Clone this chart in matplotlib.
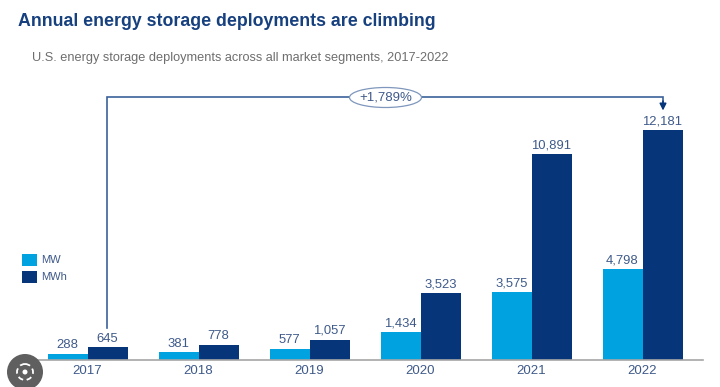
import matplotlib
matplotlib.use("Agg")
import matplotlib.pyplot as plt
from matplotlib.patches import Circle, Ellipse, Rectangle

years = ["2017", "2018", "2019", "2020", "2021", "2022"]
mw = [288, 381, 577, 1434, 3575, 4798]
mwh = [645, 778, 1057, 3523, 10891, 12181]

W, H = 720, 387
LIGHT = "#00A3E0"
DARK = "#06357A"
TEXT = "#3F5A8A"

plt.rcParams["font.family"] = ["Liberation Sans", "DejaVu Sans"]

fig = plt.figure(figsize=(W / 100, H / 100), dpi=100, facecolor="white")

# overlay in pixel coords for the title, bracket and legend
ov = fig.add_axes([0, 0, 1, 1], zorder=3)
ov.set_xlim(0, W)
ov.set_ylim(H, 0)
ov.axis("off")
ov.patch.set_alpha(0)

# bar axes
left, right, base, top = 36, 703, 359.5, 60
ax = fig.add_axes([left / W, 1 - base / H, (right - left) / W, (base - top) / H])
step = 111
bw = 40 / step
ax.set_xlim((left - 87.5) / step, (right - 87.5) / step)
ax.set_ylim(0, 12181 * (base - top) / (base - 130))
xs = list(range(len(years)))

b1 = ax.bar([x - bw / 2 for x in xs], mw, bw, color=LIGHT)
b2 = ax.bar([x + bw / 2 for x in xs], mwh, bw, color=DARK)
for bars, vals in ((b1, mw), (b2, mwh)):
    for r, v in zip(bars, vals):
        ax.annotate(f"{v:,}", (r.get_x() + r.get_width() / 2, v), xytext=(0, 2),
                    textcoords="offset points", ha="center", va="bottom",
                    fontsize=9.4, color=TEXT)

for s in ("top", "left", "right"):
    ax.spines[s].set_visible(False)
ax.spines["bottom"].set_color("#A6A6A6")
ax.spines["bottom"].set_linewidth(1.2)
ax.set_yticks([])
ax.set_xticks(xs, years)
ax.tick_params(axis="x", length=0, pad=4, labelsize=9.5, labelcolor=TEXT)

# titles
ov.text(18, 22, "Annual energy storage deployments are climbing", fontsize=12.75,
        fontweight="bold", color="#17407F", va="center")
ov.text(32, 57.5, "U.S. energy storage deployments across all market segments, 2017-2022",
        fontsize=9.2, color="#6E6E6E", va="center")

# growth bracket
ov.plot([107, 107, 663, 663], [328, 97, 97, 104], color="#3B6299", lw=1.2, solid_joinstyle="miter")
ov.annotate("", xy=(663, 110.5), xytext=(663, 101),
            arrowprops=dict(arrowstyle="-|>", color=DARK, lw=1.1, mutation_scale=10, shrinkA=0, shrinkB=0))
ov.add_patch(Ellipse((385.5, 97.5), 72, 20, fc="white", ec="#7F97BC", lw=0.9, zorder=4))
ov.text(385.5, 97.5, "+1,789%", fontsize=9.5, color=TEXT, ha="center", va="center", zorder=5)

# legend
ov.add_patch(Rectangle((22, 254), 15, 11.5, color=LIGHT, lw=0))
ov.add_patch(Rectangle((22, 271), 15, 11.5, color=DARK, lw=0))
ov.text(41.5, 260, "MW", fontsize=8, color=TEXT, va="center")
ov.text(41.5, 277, "MWh", fontsize=8, color=TEXT, va="center")

# round lens badge in the corner
ov.add_patch(Circle((25, 372), 18, fc="#5F5F5F", ec="none", zorder=6))
ov.add_patch(Circle((25, 372), 8, fc="none", ec="white", lw=1.3, ls=(0, (3, 2)), zorder=7))
ov.add_patch(Circle((25, 372), 2.5, fc="white", ec="none", zorder=7))

fig.savefig("out.png", dpi=100, facecolor="white")
